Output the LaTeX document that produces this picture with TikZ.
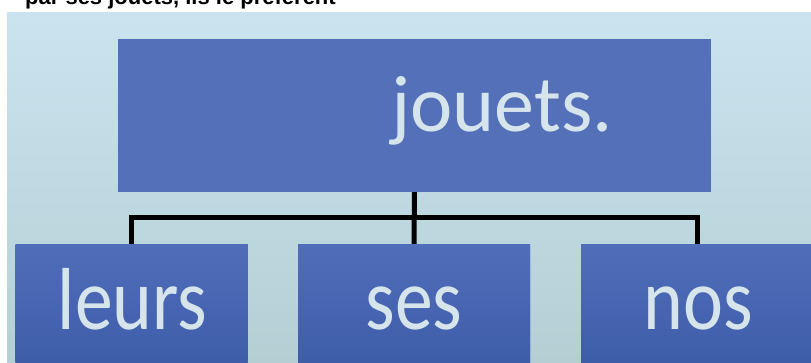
\documentclass[tikz,border=0pt]{standalone}
\usepackage{fontspec}
\usepackage{graphicx}
\setmainfont{Carlito}
\newfontfamily\capfont{Liberation Sans}
\definecolor{panelTop}{HTML}{C9E4EF}
\definecolor{panelMid}{HTML}{D6EFF9}
\definecolor{panelBot}{HTML}{B4CFD4}
\definecolor{boxBlue}{HTML}{5370B9}
\definecolor{boxTop}{HTML}{506DBA}
\definecolor{boxBot}{HTML}{3B5AA6}
\definecolor{wordCol}{HTML}{D6E4EC}
\tikzset{
  topbox/.style={rectangle, fill=boxBlue, inner sep=0pt, minimum width=593pt, minimum height=153pt},
  leafbox/.style={rectangle, inner sep=0pt, top color=boxTop, bottom color=boxBot, minimum width=232pt, minimum height=140pt},
  bigword/.style={inner sep=0pt, anchor=base, text=wordCol, font=\fontsize{80}{82}\selectfont},
  leafword/.style={inner sep=0pt, anchor=base, text=wordCol, font=\fontsize{88}{90}\selectfont},
  conn/.style={draw=black, line width=5pt, line join=miter},
  captext/.style={inner sep=0pt, anchor=base west, text=black, font=\capfont\bfseries\fontsize{22}{24}\selectfont}
}
\begin{document}
\begin{tikzpicture}[x=1pt,y=-1pt]
\useasboundingbox (0,0) rectangle (811,363);
\fill[white] (0,0) rectangle (811,363);
\shade[top color=panelTop, middle color=panelMid, bottom color=panelBot] (7,13) rectangle (811,363);
\node[captext] (cap) at (25,5) {par ses jouets, ils le préfèrent};
% boxes
\node[topbox] (top) at (414.5,115.5) {};
\coordinate (bar) at (414.5,218);
\node[leafbox] (leurs) at (131.5,315) {};
\node[leafbox] (ses) at (414,315) {};
\node[leafbox] (nos) at (697,315) {};
% connectors
\draw[conn] (top.south) -- (ses.north);
\draw[conn] (leurs.north) |- (bar) -| (nos.north);
% redraw boxes over line ends
\node[leafbox] (leursF) at (131.5,315) {};
\node[leafbox] (sesF) at (414,315) {};
\node[leafbox] (nosF) at (697,315) {};
\fill[boxBlue] (top.south west) rectangle (top.north east);
% words
\node[bigword] (tw) at (502,132) {jouets.};
\node[leafword] (lw) at (132.5,330) {\scalebox{0.86}[1]{leurs}};
\node[leafword] (sw) at (414,329) {\scalebox{0.86}[1]{ses}};
\node[leafword] (nw) at (698.5,329) {\scalebox{0.86}[1]{nos}};
\end{tikzpicture}
\end{document}
